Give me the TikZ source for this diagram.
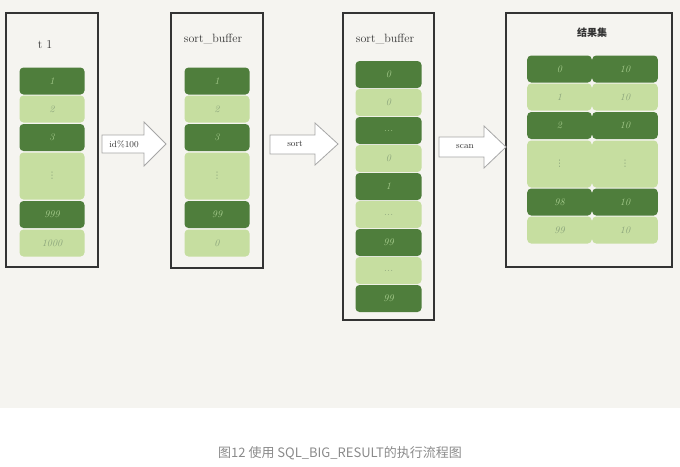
\documentclass[tikz,border=0pt]{standalone}
\usepackage{fontspec}
\newfontfamily\cjk{Noto Sans CJK SC}
\newfontfamily\dejavu{DejaVu Sans}
\definecolor{bg}{HTML}{F5F4F0}
\definecolor{dkg}{HTML}{4F7E3C}
\definecolor{ltg}{HTML}{C6DEA0}
\definecolor{dktx}{HTML}{A3C98A}
\definecolor{lttx}{HTML}{8CA57C}
\definecolor{frame}{HTML}{333333}
\definecolor{capc}{HTML}{8A8A8A}
\newcommand{\vdts}{{\dejavu\fontsize{9}{9}\selectfont ⋮}}
\tikzset{
  rowbase/.style={rounded corners=4pt, inner sep=0pt, font=\itshape\fontsize{10}{10}\selectfont, minimum height=27pt},
  dk/.style={rowbase, fill=dkg, text=dktx},
  lt/.style={rowbase, fill=ltg, text=lttx},
  panel/.style={draw=frame, line width=1.1pt},
  blockarrow/.style={draw=gray!70, fill=white, line width=0.8pt},
  title/.style={text=frame, font=\fontsize{12}{12}\selectfont},
  alabel/.style={text=frame, font=\fontsize{9}{9}\selectfont},
}
\begin{document}
\begin{tikzpicture}[x=1pt,y=-1pt]
\useasboundingbox (0,0) rectangle (680,466);
\fill[bg] (0,0) rectangle (680,408);

% panel 1
\draw[panel] (6,13) rectangle (98,267);
\node[title] (t1) at (45,45) {t 1};
\node[dk, minimum width=65pt] (a1) at (52,81) {1};
\node[lt, minimum width=65pt] (a2) at (52,109) {2};
\node[dk, minimum width=65pt] (a3) at (52,137.5) {3};
\node[lt, minimum width=65pt, minimum height=47pt] (a4) at (52,176) {\vdts};
\node[dk, minimum width=65pt] (a5) at (52,214.5) {999};
\node[lt, minimum width=65pt] (a6) at (52,243) {1000};

% panel 2
\draw[panel] (171,13) rectangle (263,268);
\node[title] (sb1) at (213,39) {sort\_buffer};
\node[dk, minimum width=65pt] (b1) at (217,81) {1};
\node[lt, minimum width=65pt] (b2) at (217,109) {2};
\node[dk, minimum width=65pt] (b3) at (217,137.5) {3};
\node[lt, minimum width=65pt, minimum height=47pt] (b4) at (217,176) {\vdts};
\node[dk, minimum width=65pt] (b5) at (217,214.5) {99};
\node[lt, minimum width=65pt] (b6) at (217,243) {0};

% panel 3
\draw[panel] (343,13) rectangle (434,320);
\node[title] (sb2) at (385,39) {sort\_buffer};
\node[dk, minimum width=66pt] (c1) at (388.5,74.5) {0};
\node[lt, minimum width=66pt] (c2) at (388.5,102.5) {0};
\node[dk, minimum width=66pt] (c3) at (388.5,130.5) {...};
\node[lt, minimum width=66pt] (c4) at (388.5,158.5) {0};
\node[dk, minimum width=66pt] (c5) at (388.5,186.5) {1};
\node[lt, minimum width=66pt] (c6) at (388.5,214.5) {...};
\node[dk, minimum width=66pt] (c7) at (388.5,242.5) {99};
\node[lt, minimum width=66pt] (c8) at (388.5,270.5) {...};
\node[dk, minimum width=66pt] (c9) at (388.5,298.5) {99};

% panel 4
\draw[panel] (506,13) rectangle (672,267);
\node[text=frame, font=\cjk\bfseries\fontsize{10}{10}\selectfont] (res) at (592,33) {结果集};
\node[dk, minimum width=64.6pt] (d1l) at (559.5,69) {0};
\node[dk, minimum width=65.6pt] (d1r) at (625,69) {10};
\node[lt, minimum width=64.6pt] (d2l) at (559.5,97) {1};
\node[lt, minimum width=65.6pt] (d2r) at (625,97) {10};
\node[dk, minimum width=64.6pt] (d3l) at (559.5,125.5) {2};
\node[dk, minimum width=65.6pt] (d3r) at (625,125.5) {10};
\node[lt, minimum width=64.6pt, minimum height=47pt] (d4l) at (559.5,164) {\vdts};
\node[lt, minimum width=65.6pt, minimum height=47pt] (d4r) at (625,164) {\vdts};
\node[dk, minimum width=64.6pt] (d5l) at (559.5,202) {98};
\node[dk, minimum width=65.6pt] (d5r) at (625,202) {10};
\node[lt, minimum width=64.6pt] (d6l) at (559.5,230) {99};
\node[lt, minimum width=65.6pt] (d6r) at (625,230) {10};

% arrows
\draw[blockarrow] (102,135) -- (144,135) -- (144,122) -- (166,144) -- (144,166) -- (144,153) -- (102,153) -- cycle;
\node[alabel] (l1) at (124,144) {id\%100};
\draw[blockarrow] (270,135) -- (315,135) -- (315,123) -- (338,144) -- (315,165) -- (315,154) -- (270,154) -- cycle;
\node[alabel] (l2) at (295,144) {sort};
\draw[blockarrow] (439,137) -- (484,137) -- (484,126) -- (506,147) -- (484,168) -- (484,157) -- (439,157) -- cycle;
\node[alabel] (l3) at (465,147) {scan};

% caption
\node[text=capc, font=\cjk\fontsize{13}{13}\selectfont] (cap) at (340,453) {图12 使用 SQL\_BIG\_RESULT的执行流程图};
\end{tikzpicture}
\end{document}
